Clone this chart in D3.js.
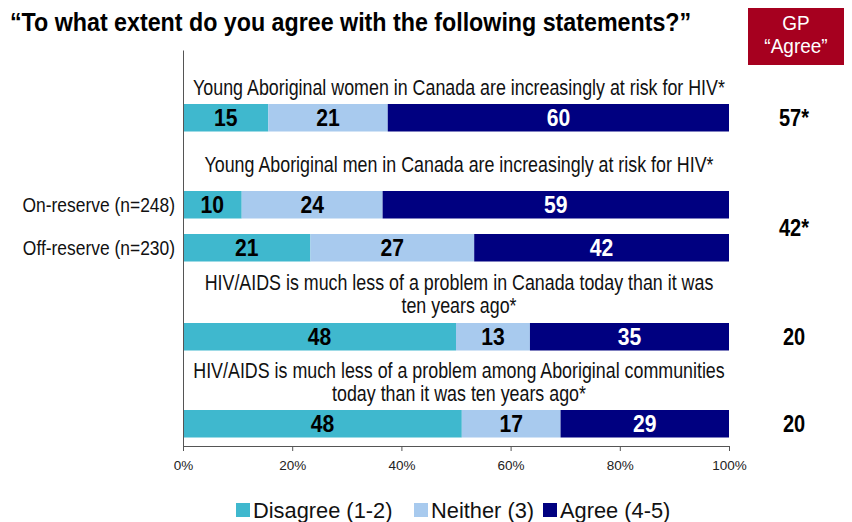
<!DOCTYPE html>
<html><head><meta charset="utf-8">
<script src="https://cdn.jsdelivr.net/npm/d3@7"></script>
<style>
body{margin:0;background:#fff;}
svg{display:block;}
text{font-family:"Liberation Sans",Arial,sans-serif;}
</style></head>
<body><div id="chart"></div>
<script>
const title = "\u201CTo what extent do you agree with the following statements?\u201D";
const statements = [
  ["Young Aboriginal women in Canada are increasingly at risk for HIV*"],
  ["Young Aboriginal men in Canada are increasingly at risk for HIV*"],
  ["HIV/AIDS is much less of a problem in Canada today than it was", "ten years ago*"],
  ["HIV/AIDS is much less of a problem among Aboriginal communities", "today than it was ten years ago*"]
];
const rowIds = ["women", "menOn", "menOff", "canada", "aboriginal"];
const rowLabels = ["", "On-reserve (n=248)", "Off-reserve (n=230)", "", ""];
const seriesNames = ["Disagree (1-2)", "Neither (3)", "Agree (4-5)"];
const disagree = [15, 10, 21, 48, 48];
const neither  = [21, 24, 27, 13, 17];
const agree    = [60, 59, 42, 35, 29];
const gpLabels = ["57*", "42*", "20", "20"];
const xTicks = [0, 0.2, 0.4, 0.6, 0.8, 1];
const gpTitle = ["GP", "\u201CAgree\u201D"];

const W = 852, H = 522;
const colors = ["#3FB8CE", "#A8CAEE", "#000080"];
const textColors = ["#000", "#000", "#fff"];

// horizontally condense text (reference uses a narrow face): move x/y into a scaled transform
function squeeze(sel, f) {
  sel.each(function () {
    const t = d3.select(this);
    const tx = +t.attr("x") || 0, ty = +t.attr("y") || 0;
    const prev = t.attr("transform");
    t.attr("x", 0).attr("y", 0)
      .attr("transform", (prev ? prev + " " : "") + `translate(${tx},${ty}) scale(${f},1)`);
  });
  return sel;
}

const svg = d3.select("#chart").append("svg").attr("width", W).attr("height", H);

const x = d3.scaleLinear().domain([0, 1]).range([183, 729]);
const barY = d3.scaleOrdinal().domain(rowIds).range([104, 191, 234, 323, 410]);
const barH = 27.5;

const keys = ["d", "n", "a"];
const rows = rowIds.map((id, i) => ({id, d: disagree[i], n: neither[i], a: agree[i]}));
const stack = d3.stack().keys(keys).offset(d3.stackOffsetExpand)(rows);

// title
squeeze(svg.append("text").attr("x", 10).attr("y", 31)
  .attr("font-size", 25).attr("font-weight", "bold").attr("fill", "#000").text(title), 0.93);

// GP box
svg.append("rect").attr("x", 748).attr("y", 8).attr("width", 96).attr("height", 57).attr("fill", "#A6001F");
squeeze(svg.selectAll(".gpt").data(gpTitle).join("text")
  .attr("x", 796).attr("y", (d, i) => 30 + i * 23).attr("text-anchor", "middle")
  .attr("fill", "#fff").attr("font-size", 20).text(d => d), 0.95);

// bars
const g = svg.append("g");
stack.forEach((s, si) => {
  g.selectAll(".seg" + si).data(s).join("rect")
    .attr("x", d => x(d[0])).attr("width", d => x(d[1]) - x(d[0]))
    .attr("y", d => barY(d.data.id)).attr("height", barH)
    .attr("fill", colors[si]);
  squeeze(g.selectAll(".lab" + si).data(s).join("text")
    .attr("x", d => (x(d[0]) + x(d[1])) / 2)
    .attr("y", d => barY(d.data.id) + barH / 2 + 8.5)
    .attr("text-anchor", "middle")
    .attr("font-weight", "bold").attr("font-size", 24).attr("fill", textColors[si])
    .text(d => d.data[keys[si]]), 0.88);
});

// statements
const stmtY = [[95], [172], [290, 313], [378, 401]];
const stmtCx = (x(0) + x(1)) / 2 + 3;
statements.forEach((lines, i) => {
  lines.forEach((t, j) => {
    squeeze(svg.append("text").attr("x", stmtCx).attr("y", stmtY[i][j])
      .attr("text-anchor", "middle").attr("font-size", 21.5).attr("fill", "#111").text(t), 0.83);
  });
});

// row labels
squeeze(svg.selectAll(".rl").data(rowIds.filter((d, i) => rowLabels[i])).join("text")
  .attr("x", 175).attr("y", d => barY(d) + barH / 2 + 7.5).attr("text-anchor", "end")
  .attr("font-size", 21).attr("fill", "#111")
  .text(d => rowLabels[rowIds.indexOf(d)]), 0.83);

// GP values
const gpY = [barY("women") + barH / 2, (barY("menOn") + barY("menOff") + barH) / 2 + 1, barY("canada") + barH / 2, barY("aboriginal") + barH / 2];
squeeze(svg.selectAll(".gpv").data(gpLabels).join("text")
  .attr("x", 794).attr("y", (d, i) => gpY[i] + 8.5).attr("text-anchor", "middle")
  .attr("font-weight", "bold").attr("font-size", 23)
  .text(d => d), 0.87);

// axes
const xAxis = d3.axisBottom(x).tickValues(xTicks).tickFormat(d3.format(".0%")).tickSize(5).tickSizeOuter(0);
const ax = svg.append("g").attr("transform", "translate(0,446)").call(xAxis);
ax.select(".domain").attr("stroke", "#555");
ax.selectAll(".tick line").attr("stroke", "#555");
ax.selectAll(".tick text").attr("font-family", "Liberation Sans, Arial, sans-serif").attr("font-size", 13.5)
  .attr("fill", "#222").attr("dy", "1.2em");
const yLine = d3.scaleLinear().domain([0, 1]).range([446, 50]);
const yAx = svg.append("g").attr("transform", "translate(183,0)").call(d3.axisLeft(yLine).tickValues([]).tickSizeOuter(0));
yAx.select(".domain").attr("stroke", "#555");

// legend
const legX = [236, 414, 543];
const leg = svg.selectAll(".leg").data(seriesNames).join("g")
  .attr("transform", (d, i) => `translate(${legX[i]},503)`);
leg.append("rect").attr("width", 14).attr("height", 14).attr("fill", (d, i) => colors[i]);
squeeze(leg.append("text").attr("x", 17).attr("y", 14.5).attr("font-size", 22.5).attr("fill", "#111").text(d => d), 0.97);
</script></body></html>
